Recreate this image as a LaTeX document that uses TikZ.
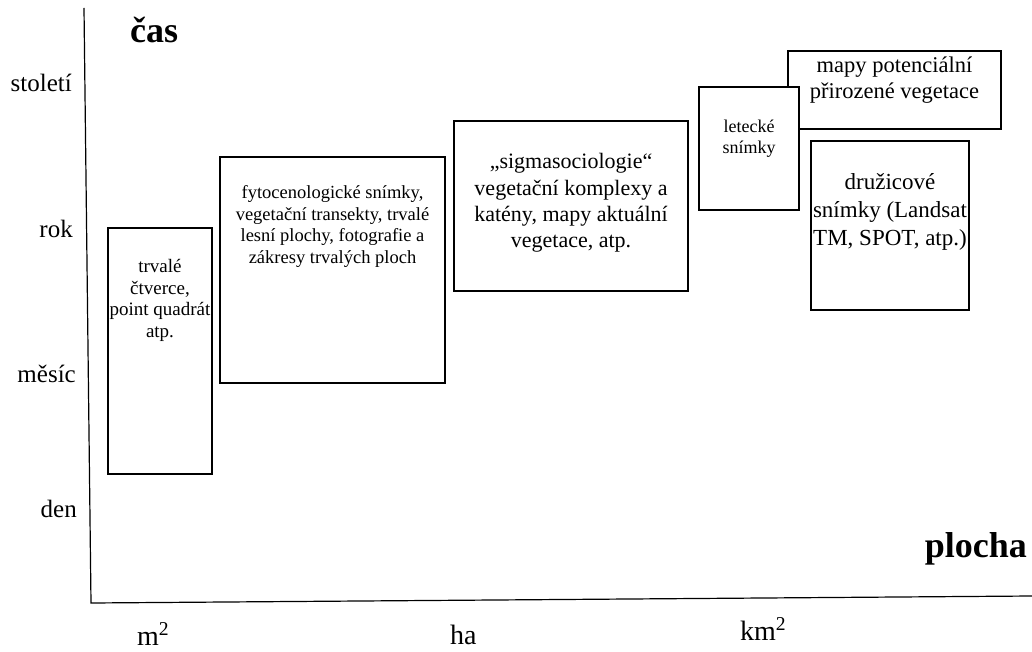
\documentclass[tikz,border=0pt]{standalone}
\usepackage{fontspec}
\setmainfont{Liberation Serif}
\usetikzlibrary{positioning}

\begin{document}
\begin{tikzpicture}[x=1pt, y=-1pt]
        \tikzstyle{box} = [rectangle, draw, line width=1.1pt, fill=white, inner sep=0pt]
        \tikzstyle{txt} = [align=center, inner sep=0pt]
        \tikzstyle{tlabel} = [font=\fontsize{25}{30}\selectfont, anchor=base east, inner sep=0pt]
        \tikzstyle{alabel} = [font=\fontsize{28}{32}\selectfont, anchor=base west, inner sep=0pt]
        \tikzstyle{title} = [font=\bfseries\fontsize{36}{40}\selectfont, inner sep=0pt]
        \tikzstyle{axis} = [draw, line width=1.2pt]

        \useasboundingbox (0,0) rectangle (1032,652);

        \coordinate (top) at (84,8);
        \coordinate (origin) at (91,603);
        \coordinate (end) at (1032,596);
        \path [axis] (top) -- (origin) -- (end);

        \node [title, anchor=base west] (cas) at (130,43) {čas};
        \node [title, anchor=base east] (plocha) at (1027,557) {plocha};

        \node [tlabel] (stoleti) at (72,92) {století};
        \node [tlabel] (rok) at (73,237) {rok};
        \node [tlabel] (mesic) at (76,382) {měsíc};
        \node [tlabel] (den) at (77,517) {den};

        \node [alabel] (m2) at (137,645) {m\textsuperscript{2}};
        \node [alabel] (ha) at (450,644) {ha};
        \node [alabel] (km2) at (740,640) {km\textsuperscript{2}};

        \node [box, minimum width=104, minimum height=246] (ctverce) at (160,351) {};
        \node [box, minimum width=225, minimum height=226] (fyto) at (332.5,270) {};
        \node [box, minimum width=234, minimum height=170] (sigma) at (571,206) {};
        \node [box, minimum width=213, minimum height=78] (mapy) at (894.5,90) {};
        \node [box, minimum width=100, minimum height=123] (letecke) at (749,148.5) {};
        \node [box, minimum width=158, minimum height=169] (druzice) at (890,225.5) {};

        \node [txt, font=\fontsize{19}{21.5}\selectfont, below=32pt of ctverce.north] (ctverce_txt) {trvalé\\čtverce,\\point quadrát\\atp.};
        \node [txt, font=\fontsize{18.5}{21.5}\selectfont, below=29pt of fyto.north] (fyto_txt) {fytocenologické snímky,\\vegetační transekty, trvalé\\lesní plochy, fotografie a\\zákresy trvalých ploch};
        \node [txt, font=\fontsize{22}{26.3}\selectfont, below=33pt of sigma.north] (sigma_txt) {„sigmasociologie“\\vegetační komplexy a\\katény, mapy aktuální\\vegetace, atp.};
        \node [txt, font=\fontsize{22.5}{26}\selectfont, below=6.5pt of mapy.north] (mapy_txt) {mapy potenciální\\přirozené vegetace};
        \node [txt, font=\fontsize{18}{21}\selectfont, below=33pt of letecke.north] (letecke_txt) {letecké\\snímky};
        \node [txt, font=\fontsize{23}{28}\selectfont, below=33pt of druzice.north] (druzice_txt) {družicové\\snímky (Landsat\\TM, SPOT, atp.)};
    \end{tikzpicture}
\end{document}
